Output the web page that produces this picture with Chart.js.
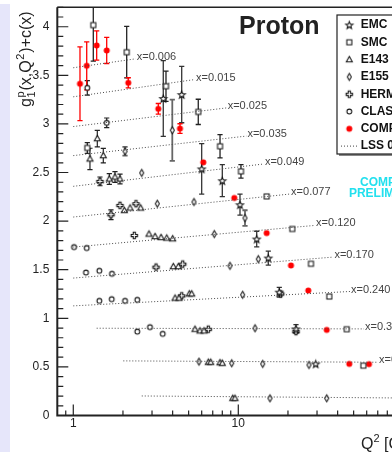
<!DOCTYPE html>
<html>
<head>
<meta charset="utf-8">
<script src="https://cdn.jsdelivr.net/npm/chart.js@4/dist/chart.umd.min.js"></script>
<style>
  html, body { margin: 0; padding: 0; background: #fff; overflow: hidden; }
  #wrap { position: relative; width: 392px; height: 452px; overflow: hidden; }
  #side { position: absolute; left: 0; top: 4px; width: 10px; height: 448px; background: #e6e6fa; }
  #c { position: absolute; left: 0; top: 0; width: 410px; height: 452px; }
</style>
</head>
<body>
<div id="wrap"><div id="side"></div><canvas id="c" width="410" height="452"></canvas></div>
<script>
// ---- measured g1 (shifted by c(x)) per experiment ----
const emcQ2  = [3.51, 4.54, 6.00, 8.00, 10.24, 12.93, 15.20, 17.72, 22.37, 29.45];
const emcG1  = [3.261, 3.302, 2.537, 2.416, 2.169, 1.816, 1.620, 1.269, 0.891, 0.531];
const emcErr = [0.39, 0.29, 0.26, 0.165, 0.108, 0.08, 0.072, 0.05, 0.043, 0.02];

const smcQ2  = [1.216, 1.322, 2.107, 3.646, 5.72, 7.75, 10.38, 14.86, 21.25, 27.58, 35.60, 45.39, 57.25];
const smcG1  = [2.753, 4.017, 3.738, 3.388, 3.124, 2.770, 2.512, 2.254, 1.919, 1.561, 1.224, 0.888, 0.513];
const smcErr = [0.055, 0.37, 0.265, 0.155, 0.13, 0.12, 0.069, 0.038, 0.03, 0.03, 0.02, 0.015, 0.012];

const e143Q2  = [1.262, 1.398, 1.520, 1.653, 1.789, 1.919, 2.038, 2.207, 2.562, 2.876, 3.128, 3.401, 3.683, 4.003,
                 4.038, 4.329, 4.135, 4.371, 5.047, 5.220, 5.465, 5.859, 6.196, 6.579, 6.803, 7.745, 7.998, 9.25, 9.55];
const e143G1  = [2.640, 2.849, 2.674, 2.434, 2.454, 2.434, 2.110, 2.135, 2.135, 1.867, 1.842, 1.832, 1.826, 1.819,
                 1.533, 1.533, 1.208, 1.208, 1.252, 1.252, 0.888, 0.871, 0.871, 0.548, 0.548, 0.544, 0.538, 0.177, 0.177];
const e143Err = [0.11, 0.085, 0.075, 0.055, 0.055, 0.05, 0.03, 0.025, 0.025, 0.02, 0.02, 0.02, 0.02, 0.02,
                 0.015, 0.015, 0.012, 0.012, 0.012, 0.012, 0.01, 0.01, 0.01, 0.01, 0.01, 0.01, 0.01, 0.01, 0.01];

const e155Q2  = [2.058, 2.598, 3.230, 3.981, 5.389, 10.98, 7.153, 8.905, 13.22, 10.63, 12.63, 5.778, 9.120, 14.06, 26.82, 15.56, 34.35];
const e155G1  = [2.718, 2.496, 2.179, 2.935, 2.197, 2.032, 1.867, 1.540, 1.609, 1.242, 0.898, 0.554, 0.538, 0.531, 0.520, 0.177, 0.177];
const e155Err = [0.045, 0.035, 0.03, 0.316, 0.02, 0.08, 0.02, 0.02, 0.025, 0.02, 0.015, 0.012, 0.012, 0.012, 0.015, 0.01, 0.012];

const hermQ2  = [1.451, 1.692, 1.919, 2.399, 2.343, 3.172, 4.603, 4.539, 18.07, 22.37, 6.579];
const hermG1  = [2.409, 2.066, 2.162, 2.179, 1.853, 1.527, 1.558, 1.231, 1.252, 0.863, 0.888];
const hermErr = [0.045, 0.05, 0.03, 0.025, 0.02, 0.02, 0.02, 0.015, 0.03, 0.03, 0.012];

const clasQ2  = [1.216, 1.594, 1.010, 1.206, 1.194, 1.438, 1.716, 1.438, 1.709, 2.058, 2.443, 2.443, 2.916, 3.482];
const clasG1  = [3.371, 3.011, 1.733, 1.723, 1.471, 1.489, 1.458, 1.180, 1.197, 1.180, 1.190, 0.863, 0.909, 0.840];
const clasErr = [0.075, 0.05, 0.012, 0.012, 0.012, 0.012, 0.012, 0.012, 0.012, 0.012, 0.012, 0.012, 0.012, 0.012];

const compQ2  = [1.098, 1.206, 1.386, 1.594, 2.154, 3.275, 4.433, 6.136, 9.459, 14.86, 20.86, 26.56, 34.35, 47.07, 61.96];
const compG1  = [3.413, 3.598, 3.807, 3.756, 3.423, 3.155, 2.952, 2.605, 2.238, 1.877, 1.544, 1.286, 0.881, 0.531, 0.528];
const compErr = [0.38, 0.247, 0.151, 0.134, 0.052, 0.055, 0.05, 0.015, 0.015, 0.012, 0.01, 0.01, 0.01, 0.01, 0.01];

// ---- LSS fit curves, one per x bin ----
const lssBins = ['x=0.006', 'x=0.015', 'x=0.025', 'x=0.035', 'x=0.049', 'x=0.077',
                 'x=0.120', 'x=0.170', 'x=0.240', 'x=0.340', 'x=0.480', 'x=0.700'];
const lssQ2Lo = [1, 1, 1, 1, 1, 1, 1, 1, 1, 1.386, 2.01, 2.6];
const lssLo   = [3.578, 3.279, 2.973, 2.674, 2.358, 2.042, 1.733, 1.414, 1.128, 0.898, 0.562, 0.201];
const lssQ2Hi = [2.39, 5.47, 8.5, 11.2, 14.3, 20.6, 29.2, 37.7, 47.5, 57.8, 70.3, 100];
const lssHi   = [3.670, 3.457, 3.165, 2.875, 2.588, 2.279, 1.956, 1.630, 1.276, 0.891, 0.548, 0.180];

// ---- axis ticks ----
const yTickVals = [0, 0.5, 1, 1.5, 2, 2.5, 3, 3.5, 4];
const yTickLabels = ['0', '0.5', '1', '1.5', '2', '2.5', '3', '3.5', '4'];
const xTickVals = [1, 10];
const xTickLabels = ['1', '10'];
const legendLabels = ['EMC', 'SMC', 'E143', 'E155', 'HERMES', 'CLAS', 'COMPASS', 'LSS 05'];

const FONT = '"Liberation Sans", Arial, Helvetica, sans-serif';

function makeMarker(kind) {
  const s = 11, c = 5.5;
  const cv = document.createElement('canvas');
  cv.width = s; cv.height = s;
  const g = cv.getContext('2d');
  g.lineWidth = 1.05; g.strokeStyle = '#111'; g.fillStyle = '#fff';
  g.beginPath();
  if (kind === 'star') {
    for (let k = 0; k < 10; k++) {
      const r = k % 2 ? 1.6 : 3.8, ang = -Math.PI / 2 + k * Math.PI / 5;
      const px = c + r * Math.cos(ang), py = c + 0.4 + r * Math.sin(ang);
      if (k) g.lineTo(px, py); else g.moveTo(px, py);
    }
    g.closePath();
  } else if (kind === 'square') {
    g.rect(c - 2.5, c - 2.5, 5, 5);
  } else if (kind === 'triangle') {
    g.moveTo(c, c - 3.2); g.lineTo(c + 3.0, c + 2.3); g.lineTo(c - 3.0, c + 2.3); g.closePath();
  } else if (kind === 'diamond') {
    g.moveTo(c, c - 3.4); g.lineTo(c + 2.0, c); g.lineTo(c, c + 3.4); g.lineTo(c - 2.0, c); g.closePath();
  } else if (kind === 'cross') {
    const w = 1.1, l = 3.2;
    const p = [[-w,-l],[w,-l],[w,-w],[l,-w],[l,w],[w,w],[w,l],[-w,l],[-w,w],[-l,w],[-l,-w],[-w,-w]];
    p.forEach((q, k) => k ? g.lineTo(c + q[0], c + q[1]) : g.moveTo(c + q[0], c + q[1]));
    g.closePath();
  } else if (kind === 'circle') {
    g.arc(c, c, 2.4, 0, Math.PI * 2);
  } else if (kind === 'dot') {
    g.arc(c, c, 3.0, 0, Math.PI * 2);
    g.fillStyle = '#ff0000'; g.fill();
    return cv;
  }
  g.fill(); g.stroke();
  return cv;
}

const mk = {
  star: makeMarker('star'), square: makeMarker('square'), triangle: makeMarker('triangle'),
  diamond: makeMarker('diamond'), cross: makeMarker('cross'), circle: makeMarker('circle'), dot: makeMarker('dot')
};
const legendMarkers = [mk.star, mk.square, mk.triangle, mk.diamond, mk.cross, mk.circle, mk.dot, null];

const pts = (q, v) => q.map((qq, i) => ({ x: qq, y: v[i] }));

const expSets = [
  { label: 'EMC', data: pts(emcQ2, emcG1), err: emcErr, pointStyle: mk.star, errColor: '#333', errWidth: 1.3 },
  { label: 'SMC', data: pts(smcQ2, smcG1), err: smcErr, pointStyle: mk.square, errColor: '#222', errWidth: 1.3 },
  { label: 'E143', data: pts(e143Q2, e143G1), err: e143Err, pointStyle: mk.triangle, errColor: '#222', errWidth: 1.2 },
  { label: 'E155', data: pts(e155Q2, e155G1), err: e155Err, pointStyle: mk.diamond, errColor: '#666', errWidth: 1.8 },
  { label: 'HERMES', data: pts(hermQ2, hermG1), err: hermErr, pointStyle: mk.cross, errColor: '#222', errWidth: 1.2 },
  { label: 'CLAS', data: pts(clasQ2, clasG1), err: clasErr, pointStyle: mk.circle, errColor: '#222', errWidth: 1.2 },
  { label: 'COMPASS', data: pts(compQ2, compG1), err: compErr, pointStyle: mk.dot, errColor: '#ff0000', errWidth: 1.3 }
].map(d => Object.assign(d, { showLine: false, pointRadius: 4 }));

const lssSets = lssBins.map((b, i) => ({
  label: b,
  data: [{ x: lssQ2Lo[i], y: lssLo[i] }, { x: lssQ2Hi[i], y: lssHi[i] }],
  showLine: true, borderColor: '#4a4a4a', borderWidth: 1, borderDash: [1, 2],
  pointRadius: 0, fill: false, isFit: true
}));

function supText(ctx, parts, x, y) {
  // parts: [text, kind, font] with kind '', 'sup' or 'sub'
  let xx = x;
  parts.forEach(([t, kind, size]) => {
    ctx.font = size;
    const dy = kind === 'sup' ? -7 : kind === 'sub' ? 4 : 0;
    ctx.fillText(t, xx, y + dy);
    xx += ctx.measureText(t).width;
  });
}

const decor = {
  id: 'decor',
  beforeDatasetsDraw(chart) {
    const { ctx, chartArea: a, scales: { x, y } } = chart;
    ctx.save();
    ctx.beginPath(); ctx.rect(a.left, a.top, a.right - a.left, a.bottom - a.top); ctx.clip();
    chart.data.datasets.forEach(ds => {
      if (!ds.err) return;
      ctx.strokeStyle = ds.errColor; ctx.lineWidth = ds.errWidth;
      ds.data.forEach((p, i) => {
        const e = ds.err[i];
        const px = x.getPixelForValue(p.x);
        const y1 = y.getPixelForValue(p.y + e), y2 = y.getPixelForValue(p.y - e);
        if (y2 - y1 < 8) return;
        ctx.beginPath();
        ctx.moveTo(px, y1); ctx.lineTo(px, y2);
        ctx.moveTo(px - 2.6, y1); ctx.lineTo(px + 2.6, y1);
        ctx.moveTo(px - 2.6, y2); ctx.lineTo(px + 2.6, y2);
        ctx.stroke();
      });
    });
    ctx.restore();
  },
  afterDraw(chart) {
    const { ctx, chartArea: a, scales: { x, y } } = chart;
    ctx.save();

    // fit labels at the end of each curve
    ctx.fillStyle = '#444';
    ctx.font = '11px ' + FONT;
    ctx.textBaseline = 'middle'; ctx.textAlign = 'left';
    lssBins.forEach((b, i) => {
      ctx.fillText(b, x.getPixelForValue(lssQ2Hi[i]) + 1, y.getPixelForValue(lssHi[i]) - 2);
    });

    // frame
    ctx.strokeStyle = '#222';
    ctx.lineWidth = 1.6;
    ctx.beginPath(); ctx.moveTo(a.left, a.top); ctx.lineTo(a.right, a.top); ctx.stroke();
    ctx.lineWidth = 2;
    ctx.beginPath(); ctx.moveTo(a.left, a.top); ctx.lineTo(a.left, a.bottom); ctx.lineTo(a.right, a.bottom); ctx.stroke();

    // y ticks (inward)
    ctx.lineWidth = 1.2;
    ctx.beginPath();
    for (let k = 0; k <= 42; k++) {
      const v = k / 10, py = y.getPixelForValue(v);
      const len = k % 5 === 0 ? 11 : 6;
      ctx.moveTo(a.left, py); ctx.lineTo(a.left + len, py);
    }
    // x ticks (inward)
    [0.9, 1, 2, 3, 4, 5, 6, 7, 8, 9, 10, 20, 30, 40, 50, 60, 70, 80, 90, 100].forEach(v => {
      const px = x.getPixelForValue(v);
      const len = (v === 1 || v === 10 || v === 100) ? 11 : 5;
      ctx.moveTo(px, a.bottom); ctx.lineTo(px, a.bottom - len);
    });
    ctx.stroke();

    // tick labels
    ctx.fillStyle = '#222';
    ctx.font = '12px ' + FONT;
    ctx.textAlign = 'right'; ctx.textBaseline = 'middle';
    yTickVals.forEach((v, i) => ctx.fillText(yTickLabels[i], a.left - 8, y.getPixelForValue(v)));
    ctx.textAlign = 'center'; ctx.textBaseline = 'top';
    xTickVals.forEach((v, i) => ctx.fillText(xTickLabels[i], x.getPixelForValue(v), a.bottom + 2));

    // y title
    ctx.save();
    ctx.translate(31, 107); ctx.rotate(-Math.PI / 2);
    ctx.textAlign = 'left'; ctx.textBaseline = 'alphabetic'; ctx.fillStyle = '#222';
    const big = '16px ' + FONT, small = '11px ' + FONT;
    ctx.font = big; ctx.fillText('g', 0, 0);
    let xx = ctx.measureText('g').width;
    ctx.font = small; ctx.fillText('1', xx + 0.5, 4); ctx.fillText('p', xx + 0.5, -7);
    xx += ctx.measureText('p').width + 1.5;
    ctx.font = big; ctx.fillText('(x,Q', xx, 0); xx += ctx.measureText('(x,Q').width;
    ctx.font = small; ctx.fillText('2', xx + 0.5, -7); xx += ctx.measureText('2').width + 1.5;
    ctx.font = big; ctx.fillText(')+c(x)', xx, 0);
    ctx.restore();

    // x title
    ctx.textAlign = 'left'; ctx.textBaseline = 'alphabetic'; ctx.fillStyle = '#222';
    supText(ctx, [['Q', '', '16px ' + FONT], ['2', 'sup', '11px ' + FONT], [' [GeV', '', '16px ' + FONT],
                  ['2', 'sup', '11px ' + FONT], [']', '', '16px ' + FONT]], 361, 449);

    // title
    ctx.font = 'bold 25px ' + FONT;
    ctx.fillText('Proton', 239, 34);

    // legend box
    const lx = 337, ly = 15, lw = 90, lh = 139;
    ctx.fillStyle = '#888'; ctx.fillRect(lx + 2, ly + 2, lw, lh);
    ctx.fillStyle = '#fff'; ctx.fillRect(lx, ly, lw, lh);
    ctx.strokeStyle = '#222'; ctx.lineWidth = 1.2; ctx.strokeRect(lx, ly, lw, lh);
    ctx.font = 'bold 12px ' + FONT; ctx.textBaseline = 'middle'; ctx.fillStyle = '#111';
    legendLabels.forEach((t, i) => {
      const ey = 25 + i * 17.3;
      const m = legendMarkers[i];
      if (m) ctx.drawImage(m, 349.3 - m.width / 2, ey - m.height / 2);
      else {
        ctx.save(); ctx.strokeStyle = '#444'; ctx.lineWidth = 1; ctx.setLineDash([1, 2]);
        ctx.beginPath(); ctx.moveTo(341, ey); ctx.lineTo(357, ey); ctx.stroke(); ctx.restore();
      }
      ctx.fillText(t, 360.7, ey);
    });

    // preliminary stamp
    ctx.fillStyle = '#22e0ee'; ctx.textAlign = 'center'; ctx.font = 'bold 12px ' + FONT;
    ctx.fillText('COMPASS', 390, 183);
    ctx.fillText('PRELIMINARY', 390, 193.5);
    ctx.restore();
  }
};

new Chart(document.getElementById('c'), {
  type: 'scatter',
  data: { datasets: [...lssSets, ...expSets] },
  options: {
    responsive: false, animation: false, devicePixelRatio: 1, events: [],
    layout: { padding: { left: 57.3, top: 7.3, right: 6.7, bottom: 36.5 } },
    plugins: { legend: { display: false }, tooltip: { enabled: false } },
    scales: {
      x: { type: 'logarithmic', min: 0.8, max: 100, display: false },
      y: { type: 'linear', min: 0, max: 4.2, display: false }
    }
  },
  plugins: [decor]
});
</script>
</body>
</html>
